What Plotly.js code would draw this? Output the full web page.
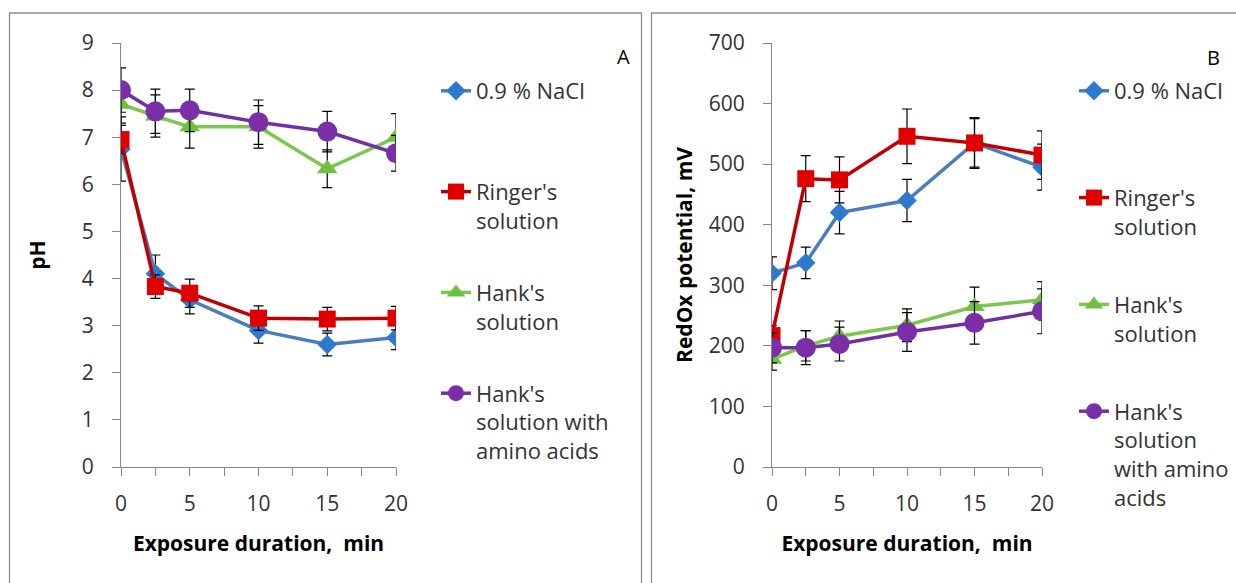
<!DOCTYPE html>
<html>
<head>
<meta charset="utf-8">
<script src="https://cdn.plot.ly/plotly-3.0.1.min.js"></script>
<style>
  html, body { margin: 0; padding: 0; background: #fff; }
  #chart { width: 1236px; height: 583px; }
</style>
</head>
<body>
<div id="chart"></div>
<script>
// Exposure duration, min
const minutes = [0, 2.5, 5, 10, 15, 20];

// Series names (legend text)
const seriesNames = ["0.9 % NaCl", "Ringer's<br>solution", "Hank's<br>solution", "Hank's<br>solution with<br>amino acids"];
const seriesNamesB = ["0.9 % NaCl", "Ringer's<br>solution", "Hank's<br>solution", "Hank's<br>solution<br>with amino<br>acids"];

// Panel A: pH
const phNaCl   = [6.75, 4.10, 3.55, 2.90, 2.60, 2.75];
const phNaClErr = [0.68, 0.40, 0.30, 0.27, 0.24, 0.26];
const phRinger = [6.95, 3.83, 3.69, 3.16, 3.14, 3.16];
const phRingerErr = [0.30, 0.25, 0.30, 0.26, 0.25, 0.25];
const phHank   = [7.70, 7.45, 7.22, 7.22, 6.33, 7.00];
const phHankErr = [0.40, 0.45, 0.45, 0.45, 0.40, 0.50];
const phAmino  = [8.00, 7.55, 7.57, 7.32, 7.12, 6.66];
const phAminoErr = [0.47, 0.47, 0.45, 0.47, 0.43, 0.38];

// Panel B: RedOx potential, mV
const rxNaCl   = [320, 337, 420, 440, 535, 495];
const rxNaClErr = [27, 26, 35, 35, 40, 38];
const rxRinger = [217, 476, 474, 546, 535, 515];
const rxRingerErr = [17, 38, 38, 45, 42, 40];
const rxHank   = [178, 200, 216, 234, 265, 276];
const rxHankErr = [18, 25, 25, 27, 32, 30];
const rxAmino  = [197, 197, 203, 223, 238, 257];
const rxAminoErr = [25, 28, 28, 32, 35, 37];

const W = 1236, H = 583;
const FONT = "Open Sans, Liberation Sans, sans-serif";
const TXT = "#333333";

const styles = [
  {line: "#4A7EBB", marker: "#2F78D0", symbol: "diamond", size: 15},
  {line: "#C00000", marker: "#E00000", symbol: "square", size: 17},
  {line: "#7CC750", marker: "#70C040", symbol: "triangle-up", size: 18},
  {line: "#7030A0", marker: "#7A2FA8", symbol: "circle", size: 20}
];

// pad legend entries to a common number of lines so each gets the same slot
function pad(name, lines) {
  const n = name.split("<br>").length;
  let s = name;
  for (let i = n; i < lines; i++) s += "<br>&nbsp;";
  return s;
}

function makeTrace(i, y, err, xa, ya, legendId, names, group) {
  const st = styles[i];
  return {
    type: "scatter",
    mode: "lines+markers",
    x: minutes, y: y,
    xaxis: xa, yaxis: ya,
    name: pad(names[i], 3),
    legend: legendId,
    legendgroup: group + i,
    line: {color: st.line, width: 3.5},
    marker: {color: st.marker, symbol: st.symbol, size: st.size, line: {width: 0}},
    error_y: {type: "data", array: err, visible: true, color: "#000000", thickness: 1.2, width: 5}
  };
}

const traces = [
  makeTrace(0, phNaCl, phNaClErr, "x", "y", "legend", seriesNames, "a"),
  makeTrace(1, phRinger, phRingerErr, "x", "y", "legend", seriesNames, "a"),
  makeTrace(2, phHank, phHankErr, "x", "y", "legend", seriesNames, "a"),
  makeTrace(3, phAmino, phAminoErr, "x", "y", "legend", seriesNames, "a"),
  makeTrace(0, rxNaCl, rxNaClErr, "x2", "y2", "legend2", seriesNamesB, "b"),
  makeTrace(1, rxRinger, rxRingerErr, "x2", "y2", "legend2", seriesNamesB, "b"),
  makeTrace(2, rxHank, rxHankErr, "x2", "y2", "legend2", seriesNamesB, "b"),
  makeTrace(3, rxAmino, rxAminoErr, "x2", "y2", "legend2", seriesNamesB, "b")
];

const px = v => v / W;
const py = v => 1 - v / H;

const tickFont = {family: FONT, size: 21, color: TXT};
const titleFont = {family: FONT, size: 21, color: "#000000", weight: "bold"};
const xTickVals = [0, 2.5, 5, 7.5, 10, 12.5, 15, 17.5, 20];
const xTickText = ["0", "", "5", "", "10", "", "15", "", "20"];

function xAxis(domain, anchor) {
  return {
    domain: domain, anchor: anchor, range: [0, 20],
    tickmode: "array", tickvals: xTickVals, ticktext: xTickText,
    ticks: "outside", ticklen: 8, tickcolor: "#868686", tickwidth: 1,
    showline: true, linecolor: "#868686", linewidth: 1,
    showgrid: false, zeroline: false, tickfont: tickFont,
    ticklabelstandoff: 10,
    title: {text: "Exposure duration,  min", font: titleFont, standoff: 20}
  };
}
function xAxisInner(domain, anchor, over) {
  return {
    domain: domain, anchor: anchor, overlaying: over, range: [0, 20],
    tickmode: "array", tickvals: xTickVals, showticklabels: false,
    ticks: "inside", ticklen: 5, tickcolor: "#868686", tickwidth: 1,
    showline: false, showgrid: false, zeroline: false
  };
}
function yAxis(domain, anchor, range, dtick, title, standoff) {
  return {
    domain: domain, anchor: anchor, range: range, dtick: dtick, tick0: 0,
    ticks: "outside", ticklen: 8, tickcolor: "#868686", tickwidth: 1,
    showline: true, linecolor: "#868686", linewidth: 1,
    showgrid: false, zeroline: false, tickfont: tickFont,
    ticklabelstandoff: 14,
    title: {text: title, font: titleFont, standoff: standoff}
  };
}

const yDom = [py(467), py(43)];

const legendBase = {
  xanchor: "left", yanchor: "top",
  bgcolor: "rgba(0,0,0,0)", borderwidth: 0,
  font: {family: FONT, size: 22, color: TXT},
  valign: "top", traceorder: "grouped",
  itemclick: false, itemdoubleclick: false
};

const layout = {
  width: W, height: H,
  margin: {l: 0, r: 0, t: 0, b: 0},
  paper_bgcolor: "#ffffff", plot_bgcolor: "rgba(0,0,0,0)",
  font: {family: FONT, color: TXT},
  showlegend: true,
  xaxis: xAxis([px(121), px(396)], "y"),
  yaxis: yAxis(yDom, "x", [0, 9], 1, "pH", 30),
  xaxis3: xAxisInner([px(121), px(396)], "y", "x"),
  xaxis2: xAxis([px(772), px(1042)], "y2"),
  yaxis2: yAxis(yDom, "x2", [0, 700], 100, "RedOx potential, mV", 10),
  xaxis4: xAxisInner([px(772), px(1042)], "y2", "x2"),
  legend: Object.assign({}, legendBase, {x: px(436), y: py(70), tracegroupgap: 12}),
  legend2: Object.assign({}, legendBase, {x: px(1074), y: py(70), tracegroupgap: 18}),
  shapes: [
    {type: "rect", xref: "paper", yref: "paper", x0: px(9.5), x1: px(641.5), y0: py(600), y1: py(13),
     line: {color: "#8C8C8C", width: 1.3}, fillcolor: "rgba(0,0,0,0)", layer: "below"},
    {type: "rect", xref: "paper", yref: "paper", x0: px(651.5), x1: px(1260), y0: py(600), y1: py(13),
     line: {color: "#8C8C8C", width: 1.3}, fillcolor: "rgba(0,0,0,0)", layer: "below"}
  ],
  annotations: [
    {text: "A", xref: "paper", yref: "paper", x: px(623), y: py(56), xanchor: "center", yanchor: "middle",
     showarrow: false, font: {family: FONT, size: 20, color: "#000"}},
    {text: "B", xref: "paper", yref: "paper", x: px(1213), y: py(58), xanchor: "center", yanchor: "middle",
     showarrow: false, font: {family: FONT, size: 20, color: "#000"}}
  ]
};

Plotly.newPlot("chart", traces, layout, {staticPlot: true, displayModeBar: false});
</script>
</body>
</html>
